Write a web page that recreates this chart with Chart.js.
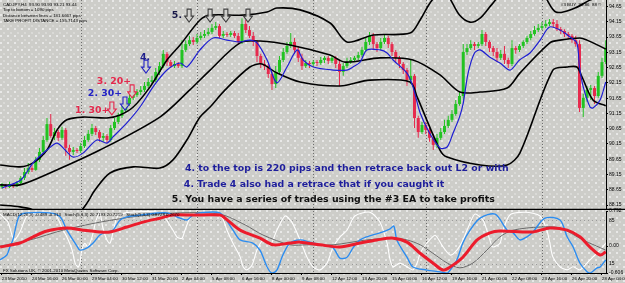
<!DOCTYPE html>
<html>
<head>
<meta charset="utf-8">
<script src="https://cdn.jsdelivr.net/npm/chart.js@4"></script>
<style>
  html, body { margin: 0; padding: 0; }
  body {
    width: 625px; height: 283px; overflow: hidden; position: relative;
    background-color: #cdcdc9;
    background-image:
      radial-gradient(circle at 1px 1px, rgba(255,255,255,0.75) 0.6px, transparent 1px),
      radial-gradient(circle at 4px 5px, rgba(255,255,255,0.55) 0.5px, transparent 0.9px);
    background-size: 7px 7px, 7px 7px;
  }
  #main { position: absolute; left: 0; top: 0; }
  #osc { position: absolute; left: 0; top: 205px; }
</style>
</head>
<body>
<canvas id="main" width="625" height="210"></canvas>
<canvas id="osc" width="625" height="78"></canvas>
<script>
// H4 bars, 23 Mar - 28 Apr 2010, one label every 8 bars
const timeLabels = ['23 Mar 2010', '24 Mar 16:00', '26 Mar 00:00', '29 Mar 04:00', '30 Mar 12:00',
  '31 Mar 20:00', '2 Apr 04:00', '5 Apr 08:00', '6 Apr 16:00', '8 Apr 00:00', '9 Apr 08:00',
  '12 Apr 12:00', '13 Apr 20:00', '15 Apr 04:00', '16 Apr 12:00', '19 Apr 16:00', '21 Apr 00:00',
  '22 Apr 08:00', '23 Apr 16:00', '26 Apr 20:00', '28 Apr 04:00'];
const labelStep = 8;
const priceTicks = [94.65, 94.15, 93.65, 93.15, 92.65, 92.15, 91.65, 91.15, 90.65, 90.15, 89.65, 89.15, 88.65, 88.15];
const oscTicks = [0.792, 0, -0.606];
const oscTickText = ['0.792', '0.00', '-0.606'];
const stochLevels = [85, 15];
const weekStarts = [21, 52, 83, 113, 144];

// CADJPY H4 candles
const open = [88.74, 88.81, 88.74, 88.84, 88.77, 88.87, 89.04, 89.23, 89.36, 89.30,
  89.63, 89.89, 90.28, 90.80, 90.41, 90.54, 90.35, 90.61, 90.02, 89.89,
  89.95, 89.92, 90.08, 90.28, 90.48, 90.67, 90.54, 90.35, 90.41, 90.28,
  90.67, 90.87, 91.07, 91.26, 91.46, 91.66, 91.75, 91.85, 91.92, 92.05,
  92.18, 92.24, 92.51, 92.70, 93.10, 92.83, 92.70, 92.77, 92.70, 93.23,
  93.42, 93.55, 93.49, 93.62, 93.69, 93.75, 93.82, 93.95, 94.01, 93.69,
  93.75, 93.72, 93.78, 93.69, 93.49, 94.08, 93.88, 93.69, 93.49, 93.03,
  92.77, 92.70, 92.44, 92.11, 92.51, 92.90, 93.16, 93.36, 93.49, 93.23,
  92.97, 92.70, 92.80, 92.77, 92.83, 92.80, 92.90, 92.97, 92.87, 92.97,
  92.77, 92.51, 92.70, 92.83, 92.90, 92.97, 93.06, 93.23, 93.49, 93.69,
  93.42, 93.29, 93.49, 93.62, 93.42, 93.16, 92.97, 92.77, 92.57, 92.24,
  92.38, 91.00, 90.54, 90.77, 90.61, 90.35, 90.12, 90.35, 90.54, 90.74,
  90.94, 91.13, 91.46, 91.72, 93.16, 93.29, 93.42, 93.36, 93.42, 93.75,
  93.49, 93.29, 93.16, 92.97, 93.10, 92.90, 92.77, 93.29, 93.23, 93.36,
  93.49, 93.62, 93.75, 93.88, 93.95, 94.01, 94.08, 94.14, 94.08, 93.91,
  93.85, 93.75, 93.69, 93.55, 93.42, 91.33, 91.66, 91.92, 91.98, 91.72,
  92.38, 92.83];
const high = [88.87, 88.84, 88.91, 88.87, 88.94, 89.10, 89.36, 89.53, 89.46, 89.72,
  90.02, 90.41, 91.00, 91.13, 90.67, 90.61, 90.71, 90.67, 90.12, 90.05,
  90.02, 90.18, 90.41, 90.61, 90.80, 90.74, 90.61, 90.51, 90.48, 90.77,
  91.00, 91.17, 91.40, 91.59, 91.79, 91.85, 91.95, 92.05, 92.18, 92.31,
  92.38, 92.64, 92.83, 93.23, 93.16, 92.90, 92.87, 92.83, 93.55, 93.55,
  93.69, 93.65, 93.75, 93.82, 93.88, 93.95, 94.08, 94.14, 94.08, 93.85,
  93.82, 93.85, 93.85, 93.78, 94.27, 94.21, 94.01, 93.82, 93.55, 93.10,
  92.90, 92.77, 92.51, 92.70, 93.03, 93.29, 93.49, 93.78, 93.62, 93.36,
  93.10, 92.90, 92.87, 92.90, 92.90, 93.00, 93.03, 93.03, 93.06, 93.03,
  92.90, 92.80, 92.97, 93.00, 93.03, 93.16, 93.33, 93.62, 93.82, 93.78,
  93.49, 93.62, 93.75, 93.69, 93.49, 93.23, 93.03, 92.83, 92.64, 92.90,
  92.44, 91.07, 90.87, 90.87, 90.67, 90.48, 90.48, 90.67, 90.94, 91.07,
  91.26, 91.59, 91.85, 93.42, 93.42, 93.55, 93.49, 93.49, 93.88, 93.82,
  93.55, 93.36, 93.29, 93.23, 93.36, 92.97, 93.55, 93.36, 93.42, 93.55,
  93.69, 93.85, 94.01, 94.08, 94.14, 94.21, 94.24, 94.24, 94.21, 93.98,
  93.91, 93.82, 93.75, 93.69, 93.55, 91.79, 92.05, 92.08, 92.05, 92.51,
  92.97, 93.55];
const low = [88.68, 88.68, 88.71, 88.71, 88.74, 88.81, 88.97, 89.17, 89.23, 89.27,
  89.56, 89.82, 90.22, 90.35, 90.28, 90.25, 90.28, 89.76, 89.63, 89.79,
  89.85, 89.85, 90.02, 90.22, 90.41, 90.44, 90.22, 90.22, 90.18, 90.22,
  90.61, 90.80, 91.00, 91.20, 91.40, 91.59, 91.69, 91.75, 91.85, 91.98,
  92.11, 92.18, 92.41, 92.64, 92.70, 92.64, 92.64, 92.64, 92.64, 93.16,
  93.36, 93.39, 93.42, 93.55, 93.62, 93.69, 93.75, 93.88, 93.62, 93.62,
  93.65, 93.65, 93.62, 93.42, 93.42, 93.78, 93.62, 93.36, 92.83, 92.64,
  92.57, 92.31, 91.92, 91.98, 92.44, 92.83, 93.10, 93.29, 93.10, 92.83,
  92.57, 92.64, 92.64, 92.70, 92.70, 92.74, 92.80, 92.77, 92.80, 92.64,
  92.05, 92.38, 92.64, 92.77, 92.83, 92.90, 93.00, 93.16, 93.39, 93.23,
  93.16, 93.23, 93.42, 93.29, 93.03, 92.83, 92.64, 92.44, 92.05, 92.11,
  90.67, 90.35, 90.48, 90.48, 90.22, 89.95, 90.02, 90.28, 90.48, 90.67,
  90.87, 91.07, 91.40, 91.59, 93.06, 93.23, 93.23, 93.29, 93.36, 93.36,
  93.16, 93.03, 92.83, 92.90, 92.77, 92.64, 92.70, 93.10, 93.16, 93.29,
  93.42, 93.55, 93.69, 93.82, 93.88, 93.95, 94.01, 93.98, 93.85, 93.75,
  93.65, 93.59, 93.46, 93.33, 91.20, 91.03, 91.53, 91.59, 91.46, 91.66,
  92.31, 92.77];
const close = [88.81, 88.74, 88.84, 88.77, 88.87, 89.04, 89.23, 89.36, 89.30, 89.63,
  89.89, 90.28, 90.80, 90.41, 90.54, 90.35, 90.61, 90.02, 89.89, 89.95,
  89.92, 90.08, 90.28, 90.48, 90.67, 90.54, 90.35, 90.41, 90.28, 90.67,
  90.87, 91.07, 91.26, 91.46, 91.66, 91.75, 91.85, 91.92, 92.05, 92.18,
  92.24, 92.51, 92.70, 93.10, 92.83, 92.70, 92.77, 92.70, 93.23, 93.42,
  93.55, 93.49, 93.62, 93.69, 93.75, 93.82, 93.95, 94.01, 93.69, 93.75,
  93.72, 93.78, 93.69, 93.49, 94.08, 93.88, 93.69, 93.49, 93.03, 92.77,
  92.70, 92.44, 92.11, 92.51, 92.90, 93.16, 93.36, 93.49, 93.23, 92.97,
  92.70, 92.80, 92.77, 92.83, 92.80, 92.90, 92.97, 92.87, 92.97, 92.77,
  92.51, 92.70, 92.83, 92.90, 92.97, 93.06, 93.23, 93.49, 93.69, 93.42,
  93.29, 93.49, 93.62, 93.42, 93.16, 92.97, 92.77, 92.57, 92.24, 92.38,
  91.00, 90.54, 90.77, 90.61, 90.35, 90.12, 90.35, 90.54, 90.74, 90.94,
  91.13, 91.46, 91.72, 93.16, 93.29, 93.42, 93.36, 93.42, 93.75, 93.49,
  93.29, 93.16, 92.97, 93.10, 92.90, 92.77, 93.29, 93.23, 93.36, 93.49,
  93.62, 93.75, 93.88, 93.95, 94.01, 94.08, 94.14, 94.08, 93.91, 93.85,
  93.75, 93.69, 93.55, 93.42, 91.33, 91.66, 91.92, 91.98, 91.72, 92.38,
  92.83, 93.29];

// main pane indicator lines: [bar, price]
const maLine = [[0, 88.71], [5, 88.97], [8.3, 89.53], [12, 89.95], [14.7, 90.18], [17.3, 89.89],
  [19, 89.72], [21.6, 89.85], [25.3, 90.28], [28, 90.18], [29.6, 90.38], [33.3, 90.84],
  [36.8, 91.36], [40.3, 92.02], [44, 92.57], [47.5, 92.80], [49.3, 92.67], [52.8, 93.23],
  [56.3, 93.62], [60, 93.55], [63.5, 93.49], [66, 93.55], [68, 93.46], [70.7, 92.90],
  [73.3, 92.15], [76, 92.67], [78.7, 93.23], [80.3, 92.90], [83, 92.67], [88.3, 92.57],
  [92, 92.57], [93.6, 92.67], [95.5, 92.83], [97.3, 93.23], [100.8, 93.23], [102.7, 93.13],
  [104.3, 92.90], [108, 92.47], [109.6, 92.02], [111.5, 91.17], [114, 90.51], [116.8, 90.02],
  [118.7, 90.05], [120.3, 90.51], [122, 91.03], [123, 91.49], [124.3, 92.47], [126, 93.13],
  [127.5, 93.23], [130, 93.00], [132.8, 92.80], [135.5, 92.57], [138, 92.90], [140.8, 93.13],
  [143.5, 93.55], [146, 93.98], [148.8, 93.88], [151.5, 93.65], [153.3, 93.46], [154, 92.67],
  [155, 92.02], [156.8, 91.36], [157.6, 91.33], [159.5, 91.59], [161, 92.18]];
const upperBand = [[-0.5, 89.46], [4.8, 89.40], [8.3, 89.53], [12, 89.95], [14.7, 90.61],
  [17.3, 90.94], [21.6, 91.03], [28, 91.00], [31.5, 91.10], [35, 91.36], [39.5, 92.02],
  [44, 92.90], [47.5, 93.39], [52.8, 94.21], [55.5, 94.37], [64.3, 94.37], [70.7, 94.47],
  [73.3, 94.60], [79.5, 94.54], [87.5, 94.11], [92, 93.49], [99, 93.72], [108.8, 93.78],
  [111.5, 94.21], [114.7, 94.86], [118, 95.13], [122, 94.37], [124.8, 94.14], [127.5, 94.27],
  [130.7, 94.73], [134, 95.13], [143.5, 95.13], [147.7, 94.47], [152.8, 94.60], [156.8, 94.86],
  [161, 95.06]];
const middleBand = [[-0.5, 88.81], [4.8, 88.81], [12.8, 89.20], [26.1, 89.95], [42.1, 91.03],
  [50.1, 91.92], [55.5, 92.57], [63.5, 93.46], [68.8, 93.52], [76.8, 93.39], [87.5, 93.06],
  [91.5, 92.83], [100.8, 92.97], [109.6, 92.90], [116.8, 92.41], [122.1, 91.85], [127.5, 91.85],
  [134.7, 91.98], [138.1, 92.47], [146.1, 93.46], [148.8, 93.55], [154.1, 93.62], [156, 93.55],
  [161, 93.26]];
const lowerBand = [[-0.5, 88.15], [4.8, 88.09], [8.3, 87.99], [13, 87.69], [18, 87.69],
  [20.8, 87.92], [22.7, 88.22], [24.8, 88.64], [28.8, 89.20], [35, 89.40], [42.1, 89.36],
  [45.6, 89.63], [49.3, 90.28], [52.8, 91.03], [55.5, 91.36], [59.5, 91.92], [66.1, 92.67],
  [69.3, 92.77], [72.8, 92.51], [79.5, 92.18], [90.1, 92.05], [98.1, 92.24], [108.8, 92.18],
  [110.7, 91.69], [116.8, 89.95], [118.7, 89.72], [127.5, 89.46], [134.7, 89.46], [138.1, 89.85],
  [146.9, 92.57], [150.7, 92.67], [153.3, 92.67], [154.7, 92.34], [157.6, 91.59], [161, 91.40]];

// lower pane: [bar, value]
const oscRed = [[-0.5, -0.02], [4.8, 0.07], [8.3, 0.21], [12, 0.34], [17.3, 0.41], [21.6, 0.36],
  [26.1, 0.32], [28.8, 0.32], [33.3, 0.43], [37.6, 0.54], [42.1, 0.63], [45.6, 0.70], [50.9, 0.70],
  [58.1, 0.70], [59.5, 0.63], [63.5, 0.36], [68.8, 0.18], [72.3, 0.03], [76.8, 0.07], [79.5, 0.09],
  [84.8, 0.03], [90.1, -0.02], [95.5, 0.07], [100, 0.14], [104.3, 0.18], [108, 0.09], [111.5, -0.16],
  [114.9, -0.38], [117.6, -0.54], [119.5, -0.47], [122.9, -0.25], [126.7, 0.14], [130.1, 0.30],
  [132.8, 0.34], [141.6, 0.32], [146.1, 0.41], [150.7, 0.36], [154.1, 0.21], [156.8, -0.02],
  [159.5, -0.20], [161, -0.13]];
const oscBlue = [[-0.5, -0.31], [1.3, -0.20], [2.1, -0.02], [2.9, 0.14], [4, 0.54], [4.8, 0.70],
  [6.7, 0.75], [12.8, 0.75], [15.5, 0.66], [17.3, 0.36], [20, 0.00], [20.8, -0.09], [22.7, -0.04],
  [24.3, 0.07], [26.1, 0.25], [28, 0.32], [29.6, 0.36], [31.5, 0.59], [33.3, 0.66], [36.8, 0.70],
  [44, 0.75], [47.5, 0.63], [49.3, 0.59], [50.9, 0.70], [52.8, 0.75], [58.1, 0.75], [61.6, 0.36],
  [63.5, 0.14], [66.9, 0.07], [68.8, -0.09], [70.7, -0.47], [72, -0.61], [73.3, -0.54],
  [74.9, -0.20], [76.8, 0.07], [79.5, 0.14], [82.1, 0.09], [84.8, 0.03], [88.3, -0.04],
  [90.1, -0.27], [92, -0.25], [93.6, -0.04], [95.5, 0.14], [97.3, 0.21], [100.8, 0.30],
  [103.5, 0.39], [104.5, 0.45], [105.3, 0.14], [108, -0.25], [109.6, -0.47], [113.3, -0.54],
  [116.8, -0.58], [118.7, -0.61], [119.5, -0.54], [121.3, -0.31], [122.9, 0.07], [124.8, 0.36],
  [127.5, 0.63], [131.5, 0.72], [134.7, 0.36], [136.3, 0.30], [138.1, 0.14], [140, 0.21],
  [141.6, 0.32], [144.8, 0.63], [148.8, 0.59], [150.7, 0.21], [152.3, -0.02], [154.1, -0.38],
  [156, -0.58], [156.8, -0.61], [158.7, -0.49], [159.5, -0.47], [161, -0.31]];
const oscGray = [[-0.5, 0.00], [7.5, 0.14], [16.3, 0.36], [26.1, 0.54], [36.8, 0.68], [47.5, 0.75],
  [58.1, 0.72], [64.8, 0.48], [69.6, 0.25], [76.8, 0.03], [81.3, 0.03], [88.3, 0.03], [97.3, 0.14],
  [104.3, 0.18], [108, 0.14], [111.5, 0.03], [114.9, -0.16], [118.7, -0.38], [122.1, -0.49],
  [125.6, -0.38], [129.3, -0.09], [132.8, 0.21], [136.3, 0.36], [143.5, 0.43], [148.8, 0.41],
  [154.9, 0.14], [161, -0.09]];
const stochWhite = [[-0.5, 95], [1.6, 82], [3.2, 53], [4.8, 66], [6.7, 92], [10.1, 98], [14.1, 95],
  [16.3, 69], [17.3, 58], [18.7, 37], [19.5, 16], [20.3, 10], [20.8, 16], [21.3, 37], [22.1, 48],
  [22.9, 42], [24, 58], [25.1, 85], [26.1, 97], [26.9, 73], [28, 53], [28.8, 48], [29.6, 65],
  [30.9, 92], [34.1, 98], [42.1, 97], [45.6, 69], [46.7, 58], [48, 56], [48.8, 69], [50.7, 94],
  [55.5, 97], [58.7, 89], [60, 69], [61.6, 48], [63.5, 26], [64.3, 10], [65.3, 5], [66.7, 13],
  [68, 37], [69.6, 53], [71.5, 45], [73.3, 69], [75.5, 92], [77.3, 82], [79.5, 53], [81.3, 26],
  [82.9, 10], [84.8, 5], [86.7, 16], [88.3, 42], [90.1, 58], [92, 69], [94.1, 92], [98.1, 98],
  [100.8, 82], [102.7, 48], [103.5, 21], [104.3, 10], [106.1, 16], [108, 10], [109.6, 5],
  [110.7, 16], [111.5, 32], [113.3, 48], [115.5, 61], [117.3, 45], [119.5, 29], [121.3, 37],
  [122.9, 53], [124, 69], [126.1, 95], [128.3, 85], [129.3, 69], [130.1, 53], [130.9, 42],
  [132.8, 48], [133.6, 69], [135.5, 94], [139.5, 98], [143.5, 92], [145.3, 69], [146.1, 48],
  [146.9, 26], [148.8, 10], [150.7, 5], [152.3, 10], [154.1, 5], [156, 16], [157.6, 26],
  [159.5, 37], [161, 48]];

// texts
const headerLines = ['CADJPY,H4  93.90 93.93 93.21 93.44', 'Top to bottom = 1090 pips',
  'Distance between lines = 181.6667 pips', 'TAKE PROFIT DISTANCE = 155.7143 pips'];
const tradeTag = '#3 BUY  93.86  88 \u00a9';
const oscHeader = 'MACD(12,26,9) -0.489 -0.313   Stoch(5,3,3) 20.7193 20.7219   Stoch(5,3,3) 0.8728 0.2670';
const copyright = 'FX Solutions UK, \u00a9 2001-2010 MetaQuotes Software Corp.';

// annotations anchored at [bar, price]
const notes = [
  { text: '5.', bar: 45.3, price: 94.37, color: '#181848' },
  { text: '4.', bar: 36.8, price: 92.97, color: '#1e1e8c' },
  { text: '3. 20+', bar: 25.3, price: 92.18, color: '#e4284c' },
  { text: '2. 30+', bar: 22.9, price: 91.80, color: '#2424c4' },
  { text: '1. 30+', bar: 19.5, price: 91.26, color: '#e4284c' },
  { text: '4. to the top is 220 pips and then retrace back out L2 or with', bar: 48.8, price: 89.36, color: '#1e1e9c' },
  { text: '4. Trade 4 also had a retrace that if you caught it', bar: 48.5, price: 88.81, color: '#1e1e9c' },
  { text: '5. You have a series of trades using the #3 EA to take profits', bar: 45.3, price: 88.32, color: '#101010' }
];
const arrows = [
  { bar: 29.3, price: 91.10, color: '#e4284c' },
  { bar: 32.8, price: 91.26, color: '#2424c4' },
  { bar: 34.7, price: 91.66, color: '#e4284c' },
  { bar: 38.4, price: 92.47, color: '#2424c4' },
  { bar: 49.9, price: 94.14, color: '#404040' },
  { bar: 55.5, price: 94.14, color: '#404040' },
  { bar: 59.7, price: 94.14, color: '#404040' },
  { bar: 65.6, price: 94.14, color: '#404040' }
];

Chart.defaults.font.family = '"Liberation Sans", Arial, sans-serif';
Chart.defaults.color = '#000';

const pts = (arr) => arr.map(([x, y]) => ({ x, y }));
const upColor = '#22c322';
const downColor = '#e62a4e';
const candleColors = close.map((c, i) => (c >= open[i] ? upColor : downColor));
const wickData = high.map((h, i) => ({ x: i, y: [low[i], h] }));
const bodyData = open.map((o, i) => ({ x: i, y: [o, close[i]] }));

const xCommon = { type: 'linear', min: -0.53, max: 161.07, offset: false };

function lineSet(data, color, width, order, extra) {
  return Object.assign({
    type: 'line', data: pts(data), borderColor: color, borderWidth: width,
    pointRadius: 0, tension: 0.3, fill: false, order: order
  }, extra || {});
}

function drawSeparators(chart) {
  const { ctx, chartArea: a, scales: { x } } = chart;
  ctx.save();
  ctx.strokeStyle = '#6e6e6e';
  ctx.lineWidth = 1;
  ctx.setLineDash([1, 2]);
  weekStarts.forEach(b => {
    const px = Math.round(x.getPixelForValue(b)) + 0.5;
    ctx.beginPath();
    ctx.moveTo(px, a.top);
    ctx.lineTo(px, a.bottom);
    ctx.stroke();
  });
  ctx.restore();
}

function drawArrow(ctx, px, py, color) {
  ctx.beginPath();
  ctx.moveTo(px - 2, py - 13);
  ctx.lineTo(px + 2, py - 13);
  ctx.lineTo(px + 2, py - 6);
  ctx.lineTo(px + 4.5, py - 6);
  ctx.lineTo(px, py);
  ctx.lineTo(px - 4.5, py - 6);
  ctx.lineTo(px - 2, py - 6);
  ctx.closePath();
  ctx.fillStyle = 'rgba(210,210,206,0.9)';
  ctx.fill();
  ctx.strokeStyle = color;
  ctx.lineWidth = 1.1;
  ctx.stroke();
}

const mainDecor = {
  id: 'mainDecor',
  beforeDatasetsDraw(chart) {
    drawSeparators(chart);
  },
  afterDatasetsDraw(chart) {
    const { ctx, chartArea: a, scales: { x, y } } = chart;
    ctx.save();
    ctx.textAlign = 'left';
    ctx.textBaseline = 'middle';
    ctx.fillStyle = '#000';
    ctx.font = '4.4px "Liberation Sans"';
    headerLines.forEach((t, k) => ctx.fillText(t, 3, 5 + k * 5.2));
    ctx.fillText(tradeTag, 561, 4.5);

    arrows.forEach(m => drawArrow(ctx, x.getPixelForValue(m.bar), y.getPixelForValue(m.price), m.color));

    ctx.font = 'bold 9.4px "DejaVu Sans"';
    notes.forEach(n => {
      ctx.fillStyle = n.color;
      ctx.fillText(n.text, x.getPixelForValue(n.bar), y.getPixelForValue(n.price));
    });

    ctx.strokeStyle = '#000';
    ctx.lineWidth = 1.5;
    ctx.beginPath();
    ctx.moveTo(0, a.bottom + 0.5);
    ctx.lineTo(chart.width, a.bottom + 0.5);
    ctx.stroke();
    ctx.restore();
  }
};

new Chart(document.getElementById('main'), {
  type: 'bar',
  data: {
    datasets: [
      { type: 'bar', data: wickData, backgroundColor: candleColors, barThickness: 1, grouped: false,
        inflateAmount: 0, borderWidth: 0, order: 6 },
      { type: 'bar', data: bodyData, backgroundColor: candleColors, barThickness: 3, grouped: false,
        inflateAmount: 0, borderWidth: 0, minBarLength: 1, order: 5 },
      lineSet(upperBand, '#000', 1.6, 3),
      lineSet(middleBand, '#000', 1.6, 3),
      lineSet(lowerBand, '#000', 1.6, 3),
      lineSet(maLine, '#1e1ed2', 1.2, 2)
    ]
  },
  options: {
    responsive: false,
    animation: false,
    devicePixelRatio: 1,
    layout: { padding: { left: 0, right: 0, top: 0, bottom: 1 } },
    plugins: { legend: { display: false }, tooltip: { enabled: false } },
    scales: {
      x: Object.assign({}, xCommon, { display: false }),
      y: {
        position: 'right', min: 88.02, max: 94.864,
        afterFit: (s) => { s.width = 19; s.paddingTop = 0; s.paddingBottom = 0; },
        afterBuildTicks: (s) => { s.ticks = priceTicks.map(v => ({ value: v })); },
        ticks: { font: { size: 5 }, color: '#000', padding: 1, callback: (v) => v.toFixed(2) },
        grid: { drawOnChartArea: false, tickLength: 2, color: '#000' },
        border: { color: '#000', width: 1 }
      }
    }
  },
  plugins: [mainDecor]
});

const oscDecor = {
  id: 'oscDecor',
  beforeDatasetsDraw(chart) {
    drawSeparators(chart);
    const { ctx, chartArea: a, scales: { stoch } } = chart;
    ctx.save();
    ctx.strokeStyle = '#9a9a9a';
    ctx.lineWidth = 1;
    ctx.setLineDash([1, 3]);
    stochLevels.forEach(v => {
      const py = Math.round(stoch.getPixelForValue(v)) + 0.5;
      ctx.beginPath();
      ctx.moveTo(a.left, py);
      ctx.lineTo(a.right, py);
      ctx.stroke();
    });
    ctx.restore();
  },
  afterDatasetsDraw(chart) {
    const { ctx, chartArea: a, scales: { stoch } } = chart;
    ctx.save();
    ctx.textAlign = 'left';
    ctx.textBaseline = 'middle';
    ctx.fillStyle = '#000';
    ctx.font = '4.4px "Liberation Sans"';
    ctx.fillText(oscHeader, 3, a.top + 4);
    ctx.fillText(copyright, 3, a.bottom - 2);
    ctx.font = '5px "Liberation Sans"';
    stochLevels.forEach(v => ctx.fillText(String(v), a.right + 3, stoch.getPixelForValue(v)));
    ctx.restore();
  }
};

new Chart(document.getElementById('osc'), {
  type: 'line',
  data: {
    datasets: [
      lineSet(stochWhite, '#ffffff', 1.1, 4, { yAxisID: 'stoch', tension: 0.25 }),
      lineSet(oscGray, '#6a6a6a', 1, 3),
      lineSet(oscBlue, '#2b8cf0', 1.4, 2),
      lineSet(oscRed, '#ec1c2c', 3, 1)
    ]
  },
  options: {
    responsive: false,
    animation: false,
    devicePixelRatio: 1,
    layout: { padding: { left: 0, right: 0, top: 6, bottom: 0 } },
    plugins: { legend: { display: false }, tooltip: { enabled: false } },
    scales: {
      x: Object.assign({}, xCommon, {
        position: 'bottom',
        afterFit: (s) => { s.height = 10; s.paddingLeft = 0; s.paddingRight = 0; },
        afterBuildTicks: (s) => { s.ticks = timeLabels.map((t, k) => ({ value: k * labelStep })); },
        ticks: { autoSkip: false, maxRotation: 0, align: 'start', font: { size: 4.4 }, color: '#000',
          padding: 1, callback: (v, i) => timeLabels[i] },
        grid: { drawOnChartArea: false, tickLength: 2, color: '#000' },
        border: { color: '#000', width: 1 }
      }),
      y: {
        position: 'right', min: -0.606, max: 0.792,
        afterFit: (s) => { s.width = 19; s.paddingTop = 0; s.paddingBottom = 0; },
        afterBuildTicks: (s) => { s.ticks = oscTicks.map(v => ({ value: v })); },
        ticks: { font: { size: 5 }, color: '#000', padding: 1, callback: (v, i) => oscTickText[i] },
        grid: { drawOnChartArea: false, tickLength: 2, color: '#000' },
        border: { color: '#000', width: 1 }
      },
      stoch: { position: 'right', display: false, min: 0, max: 100 }
    }
  },
  plugins: [oscDecor]
});
</script>
</body>
</html>
